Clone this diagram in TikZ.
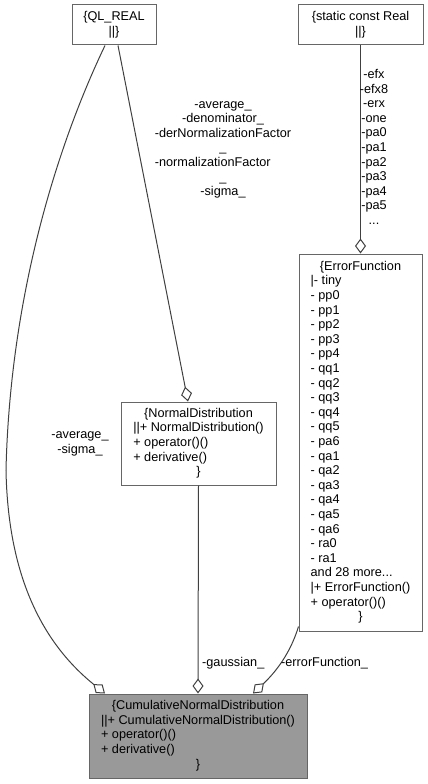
\documentclass[tikz,border=0pt]{standalone}
\usepackage{fontspec}
\setmainfont{Liberation Sans}
\usetikzlibrary{arrows.meta}
\definecolor{edgecol}{HTML}{404040}
\definecolor{boxcol}{HTML}{666666}
\definecolor{mainfill}{HTML}{999999}
\newcommand\ccol[1]{\multicolumn{1}{@{}c@{}}{#1}}
\newcommand\lcol[1]{\multicolumn{1}{@{}l@{}}{#1}}
\begin{document}
\begin{tikzpicture}[x=1pt,y=-1pt,
  every node/.style={font=\fontsize{12.7}{14.6}\selectfont},
  cls/.style={draw=boxcol, line width=1pt, fill=white, inner sep=0pt, anchor=center},
  lbl/.style={inner sep=0pt},
  agg/.style={draw=edgecol, line width=1pt, -{Diamond[open,length=15pt,width=11pt,line width=1pt]}}]
\useasboundingbox (0,0) rectangle (428,784);

\node[cls, minimum width=84pt, minimum height=40pt] (ql) at (114,25)
  {\begin{tabular}{@{}c@{}}\{QL\_REAL\\ ||\}\end{tabular}};
\node[cls, minimum width=125pt, minimum height=40pt] (scr) at (360.5,25)
  {\begin{tabular}{@{}c@{}}\{static const Real\\ ||\}\end{tabular}};
\node[cls, minimum width=123pt, minimum height=377pt] (ef) at (360.5,442.5)
  {\begin{tabular}{@{}l@{}}\ccol{\{ErrorFunction}\\ |- tiny\\ - pp0\\ - pp1\\ - pp2\\ - pp3\\ - pp4\\
   - qq1\\ - qq2\\ - qq3\\ - qq4\\ - qq5\\ - pa6\\ - qa1\\ - qa2\\ - qa3\\ - qa4\\ - qa5\\ - qa6\\
   - ra0\\ - ra1\\ and 28 more...\\ |+ ErrorFunction()\\ + operator()()\\ \ccol{\}}\end{tabular}};
\node[cls, minimum width=155pt, minimum height=83pt] (nd) at (198.5,443.5)
  {\begin{tabular}{@{}l@{}}\ccol{\{NormalDistribution}\\ ||+ NormalDistribution()\\ + operator()()\\
   + derivative()\\ \ccol{\}}\end{tabular}};
\node[cls, fill=mainfill, minimum width=218pt, minimum height=84pt] (cnd) at (198,736)
  {\begin{tabular}{@{}l@{}}\ccol{\{CumulativeNormalDistribution}\\ ||+ CumulativeNormalDistribution()\\
   + operator()()\\ + derivative()\\ \ccol{\}}\end{tabular}};

% connectors
\draw[agg] ([xshift=-9pt]ql.south) .. controls (55,150) and (10,300) .. (6,470)
  .. controls (8,580) and (45,645) .. ([xshift=-93pt]cnd.north);
\draw[agg] ([xshift=4pt]ql.south) -- ([xshift=-10.5pt]nd.north);
\draw[agg] (scr.south) -- (ef.north);
\draw[agg] (nd.south) -- (cnd.north);
\draw[agg] ([yshift=5pt]ef.south west) .. controls (292,648) and (280,668) .. ([xshift=55pt]cnd.north);

% labels
\node[lbl] (l1) at (80,443) {\begin{tabular}{@{}c@{}}-average\_\\ -sigma\_\end{tabular}};
\node[lbl] (l2) at (223,149) {\begin{tabular}{@{}c@{}}-average\_\\ -denominator\_\\ -derNormalizationFactor\\
  \_\\ \lcol{-normalizationFactor}\\ \_\\ -sigma\_\end{tabular}};
\node[lbl] (l3) at (374,148.5) {\begin{tabular}{@{}c@{}}-efx\\ -efx8\\ -erx\\ -one\\ -pa0\\ -pa1\\ -pa2\\
  -pa3\\ -pa4\\ -pa5\\ ...\end{tabular}};
\node[lbl, anchor=west] (l4) at (202,663) {-gaussian\_};
\node[lbl, anchor=west] (l5) at (281,663) {-errorFunction\_};
\end{tikzpicture}
\end{document}
